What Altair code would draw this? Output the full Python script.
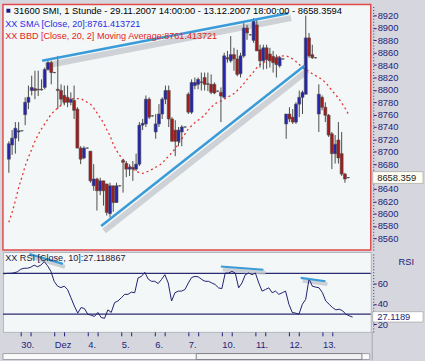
import json
import altair as alt
import pandas as pd

# ---------------- data ----------------
opens = [8688, 8711, 8722, 8732, 8734, 8760, 8780, 8799, 8802, 8800,
         8801, 8804, 8833, 8844, 8828, 8801, 8799, 8791, 8788, 8780,
         8783, 8769, 8706, 8690, 8706, 8701, 8645, 8656, 8637, 8653,
         8648, 8600, 8645, 8618, 8645, 8686, 8681, 8672, 8675, 8672,
         8680, 8743, 8745, 8785, 8758, 8732, 8745, 8761, 8785, 8799,
         8753, 8735, 8717, 8732, 8740, 8793, 8764, 8807, 8809, 8813,
         8820, 8810, 8809, 8809, 8798, 8796, 8788, 8852, 8847, 8857,
         8850, 8826, 8855, 8900, 8889, 8880, 8905, 8865, 8847, 8868,
         8858, 8854, 8852, 8839, 8850, 8745, 8761, 8756, 8748, 8777,
         8788, 8793, 8884, 8857, 8852, 8761, 8788, 8772, 8759, 8729,
         8697, 8719, 8697, 8664, 8658.3594]
highs = [8717, 8735, 8748, 8748, 8735, 8788, 8807, 8823, 8831, 8831,
         8817, 8836, 8847, 8847, 8829, 8855, 8809, 8807, 8807, 8796,
         8807, 8772, 8709, 8709, 8707, 8701, 8680, 8658, 8658, 8653,
         8648, 8650, 8645, 8650, 8646, 8688, 8685, 8680, 8685, 8697,
         8748, 8753, 8791, 8788, 8759, 8761, 8777, 8788, 8807, 8807,
         8756, 8751, 8740, 8743, 8741, 8796, 8817, 8820, 8820, 8828,
         8828, 8828, 8825, 8812, 8799, 8804, 8860, 8863, 8887, 8868,
         8865, 8860, 8908, 8905, 8890, 8916, 8913, 8873, 8873, 8873,
         8868, 8863, 8857, 8855, 8851, 8761, 8772, 8769, 8780, 8799,
         8799, 8920, 8892, 8873, 8853, 8809, 8791, 8780, 8761, 8732,
         8727, 8748, 8732, 8666, 8659]
lows = [8666, 8695, 8697, 8717, 8733, 8743, 8769, 8791, 8785, 8790,
        8799, 8801, 8831, 8809, 8827, 8769, 8775, 8775, 8772, 8775,
        8753, 8706, 8680, 8688, 8705, 8650, 8637, 8605, 8630, 8613,
        8597, 8594, 8603, 8618, 8644, 8634, 8659, 8661, 8653, 8669,
        8677, 8735, 8740, 8753, 8757, 8721, 8740, 8753, 8777, 8740,
        8717, 8693, 8709, 8709, 8739, 8761, 8761, 8801, 8801, 8799,
        8799, 8798, 8793, 8793, 8797, 8748, 8786, 8844, 8844, 8831,
        8822, 8820, 8852, 8881, 8888, 8876, 8863, 8836, 8833, 8834,
        8836, 8828, 8820, 8836, 8849, 8721, 8748, 8745, 8745, 8756,
        8761, 8793, 8852, 8850, 8851, 8732, 8767, 8748, 8724, 8672,
        8681, 8681, 8661, 8650, 8657]
closes = [8713, 8722, 8738, 8734, 8734, 8780, 8788, 8804, 8799, 8801,
          8800, 8833, 8844, 8828, 8828, 8799, 8785, 8780, 8780, 8785,
          8767, 8706, 8688, 8706, 8706, 8653, 8656, 8637, 8653, 8637,
          8602, 8645, 8618, 8645, 8645, 8683, 8672, 8675, 8672, 8680,
          8743, 8746, 8785, 8756, 8758, 8745, 8761, 8785, 8799, 8753,
          8717, 8717, 8735, 8740, 8740, 8764, 8812, 8812, 8817, 8812,
          8809, 8809, 8796, 8795, 8798, 8790, 8855, 8850, 8857, 8850,
          8825, 8855, 8900, 8892, 8889, 8911, 8863, 8847, 8868, 8849,
          8847, 8844, 8841, 8852, 8850, 8761, 8753, 8748, 8777, 8788,
          8796, 8884, 8855, 8852, 8852, 8793, 8772, 8759, 8727, 8697,
          8712, 8690, 8664, 8656, 8658.3594]
sma20 = [8586, 8602, 8621, 8642, 8659, 8677, 8691, 8704, 8717, 8728,
         8737, 8745, 8753, 8761, 8766, 8771, 8775, 8779, 8783, 8785,
         8786, 8786, 8786, 8783, 8780, 8777, 8771, 8763, 8755, 8747,
         8736, 8726, 8712, 8702, 8694, 8688, 8681, 8677, 8672, 8669,
         8666, 8665, 8667, 8669, 8672, 8675, 8678, 8681, 8688, 8693,
         8699, 8705, 8713, 8721, 8729, 8737, 8742, 8747, 8751, 8755,
         8759, 8766, 8772, 8777, 8780, 8782, 8785, 8788, 8791, 8794,
         8799, 8804, 8810, 8817, 8823, 8829, 8836, 8841, 8844, 8847,
         8849, 8850, 8852, 8854, 8855, 8855, 8853, 8850, 8846, 8841,
         8836, 8833, 8830, 8826, 8823, 8820, 8817, 8812, 8806, 8799,
         8793, 8787, 8779, 8771, 8761.413721]
rsi10 = [69.5, 70, 70, 70.5, 71.5, 74, 75, 75, 76, 78,
         76.5, 78, 81.5, 77.5, 72, 62, 57.5, 56, 57.5, 54,
         46, 38, 31, 36.5, 35.5, 30, 29, 27.8, 31.7, 26.8,
         25.9, 34.2, 31.7, 41.3, 42.9, 46, 49.4, 49.4, 51.6, 51,
         65.5, 67, 71, 64.5, 62.2, 62.2, 60, 64, 68.7, 60.6,
         42.9, 51, 52.6, 52.6, 54.2, 60.6, 66, 67, 66.5, 64,
         62.2, 62.2, 60.6, 59, 55.8, 55, 70.3, 70.3, 71.9, 70.3,
         55.8, 60.6, 68.7, 70.3, 68.7, 70.3, 60.6, 52.6, 54.2, 55.8,
         51, 52.6, 49.4, 51, 52.6, 39.7, 31.7, 31, 30, 39.7,
         44.5, 64.5, 57.4, 56.5, 55.8, 51, 42.9, 39.7, 36.5, 34.2,
         34.9, 33.3, 30, 28.4, 27.118867]

day_labels = ["30.", "Dez", "4.", "5.", "6.", "7.", "10.", "11.", "12.", "13."]
day_start_idx = [5, 15, 25, 35, 45, 55, 65, 75, 85, 95]
midday_idx = [8, 18, 28, 38, 48, 58, 68, 78, 88, 98]
# 8660 sits under the last-value box in the reference, so it is not labelled
price_ticks = [8560, 8580, 8600, 8620, 8640, 8680, 8700, 8720, 8740, 8760,
               8780, 8800, 8820, 8840, 8860, 8880, 8900, 8920]
rsi_ticks = [20, 40, 60]
rsi_levels = [30, 70]

# hand-drawn trend lines (candle index / price)
trend_i1 = [10.2, 28.3]
trend_p1 = [8847, 8580]
trend_i2 = [85.6, 90.6]
trend_p2 = [8924, 8839]
# hand-drawn lines in RSI panel (candle index / RSI)
rtrend_i1 = [7.6, 64.7, 88.5]
rtrend_r1 = [89.0, 76.7, 65.5]
rtrend_i2 = [17.6, 77.4, 95.9]
rtrend_r2 = [79.3, 73.5, 62.3]

title_main = ("31600  SMI, 1 Stunde - 29.11.2007 14:00:00 - 13.12.2007 18:00:00 - "
              f"{closes[-1]:.4f}")
title_sma = f"XX SMA [Close, 20]:{sma20[-1]:.6f}"
title_bbd = f"XX BBD [Close, 20, 2] Moving Average:{sma20[-1]:.6f}"
title_rsi = f"XX RSI [Close, 10]:{rsi10[-1]:.6f}"

# ---------------- styling ----------------
FONT = "Liberation Sans"
NAVY = "#1e1e78"
UP = "#2424b0"
DOWN = "#a11b1b"
WICK = "#4a4a4a"
TREND = "#3a9bd9"
SHADOW = "#c2c6cc"
PLOT_BG = "#f4f7f7"
PANEL_BG = "#d6d6de"

df = pd.DataFrame({
    "i": list(range(len(closes))),
    "open": opens, "high": highs, "low": lows, "close": closes,
    "sma": sma20, "rsi": rsi10,
})
df["dir"] = ["up" if c >= o else "down" for o, c in zip(opens, closes)]

xs = alt.Scale(domain=[-0.294, 109.41], nice=False, zero=False)
ys = alt.Scale(domain=[8541.2, 8938.0], nice=False, zero=False)
rs = alt.Scale(domain=[12.65, 90.9], nice=False, zero=False)

price_axis = alt.Axis(orient="right", values=price_ticks, format="d", title=None,
                      grid=False, offset=2.5, tickSize=3, tickColor=NAVY,
                      labelColor=NAVY, labelFont=FONT, labelFontSize=9.5,
                      labelPadding=1, domainColor="#333366", domainDash=[1, 2],
                      labelFlush=False, labelOverlap=False)
rsi_axis = alt.Axis(orient="right", values=rsi_ticks, format="d", title=None,
                    grid=False, offset=2.5, tickSize=3, tickColor=NAVY,
                    labelColor=NAVY, labelFont=FONT, labelFontSize=9.5,
                    labelPadding=1, domainColor="#333366", domainDash=[1, 2],
                    labelFlush=False, labelOverlap=False)

arr_idx = json.dumps(day_start_idx)
arr_lab = "[" + ",".join(f"'{d}'" for d in day_labels) + "]"
label_expr = (f"indexof({arr_idx}, datum.value) >= 0 ? "
              f"{arr_lab}[indexof({arr_idx}, datum.value)] : ''")
date_axis = alt.Axis(values=day_start_idx + midday_idx, labelExpr=label_expr,
                     orient="bottom", domain=False, grid=False, tickSize=4,
                     tickColor=NAVY, labelColor=NAVY, labelAlign="left",
                     labelBaseline="top", labelPadding=4, labelFontSize=9.5,
                     labelFont=FONT, title=None, labelFlush=False,
                     labelOverlap=False)


def text_at(txt, x, y, color, size, align="left"):
    return alt.Chart(pd.DataFrame({"t": [txt]})).mark_text(
        align=align, baseline="middle", font=FONT, fontSize=size, color=color
    ).encode(text="t:N", x=alt.value(x), y=alt.value(y))


base = alt.Chart(df)

# ---------- price panel ----------
wicks = base.mark_rule(color=WICK, strokeWidth=1).encode(
    x=alt.X("i:Q", scale=xs, axis=None),
    y=alt.Y("low:Q", scale=ys, axis=price_axis),
    y2="high:Q",
)
bodies = base.mark_bar(size=3, stroke="#4c4c4c", strokeWidth=0.6).encode(
    x=alt.X("i:Q", scale=xs, axis=None),
    y=alt.Y("open:Q", scale=ys, axis=price_axis),
    y2="close:Q",
    color=alt.Color("dir:N", scale=alt.Scale(domain=["up", "down"], range=[UP, DOWN]),
                    legend=None),
)
sma_line = base.mark_line(color="#e63232", strokeDash=[2, 3], strokeWidth=1.3).encode(
    x=alt.X("i:Q", scale=xs, axis=None),
    y=alt.Y("sma:Q", scale=ys, axis=price_axis),
)

tl = pd.DataFrame({"i1": trend_i1, "p1": trend_p1, "i2": trend_i2, "p2": trend_p2})
tl_shadow = alt.Chart(tl).mark_rule(
    color=SHADOW, strokeWidth=6, opacity=0.75, xOffset=3, x2Offset=3,
    yOffset=5, y2Offset=5
).encode(x=alt.X("i1:Q", scale=xs, axis=None), x2="i2:Q",
         y=alt.Y("p1:Q", scale=ys, axis=price_axis), y2="p2:Q")
tl_line = alt.Chart(tl).mark_rule(color=TREND, strokeWidth=2.6).encode(
    x=alt.X("i1:Q", scale=xs, axis=None), x2="i2:Q",
    y=alt.Y("p1:Q", scale=ys, axis=price_axis), y2="p2:Q")

last_df = pd.DataFrame({"v": [closes[-1]]})
last_box = alt.Chart(last_df).mark_rect(
    fill="#fdfdf2", stroke="#9a9a9a", strokeWidth=0.6, yOffset=-6, y2Offset=6
).encode(x=alt.value(375), x2=alt.value(426),
         y=alt.Y("v:Q", scale=ys, axis=price_axis), y2="v:Q")
last_txt = alt.Chart(last_df).mark_text(
    align="left", baseline="middle", font=FONT, fontSize=9.5, color="#222222"
).encode(x=alt.value(379.5), y=alt.Y("v:Q", scale=ys, axis=price_axis),
         text=alt.Text("v:Q", format=".3f"))

icon = alt.Chart(pd.DataFrame({"k": [1]})).mark_point(
    shape="square", filled=True, size=16, color="#1a1a8a", opacity=1
).encode(x=alt.value(5.5), y=alt.value(6.3))

main = alt.layer(
    tl_shadow, sma_line, wicks, bodies, tl_line, last_box, last_txt, icon,
    text_at(title_main, 11, 6.3, "#000000", 9.5),
    text_at(title_sma, 2.3, 20, "#2a2ae6", 9.2),
    text_at(title_bbd, 2.3, 32.3, "#e42222", 9.2),
).properties(
    width=373, height=249,
    view=alt.ViewBackground(fill=PLOT_BG, stroke="#e24a4a", strokeWidth=1.5),
)

# ---------- RSI panel ----------
rsi_line = base.mark_line(color="#20206e", strokeWidth=1).encode(
    x=alt.X("i:Q", scale=xs, axis=date_axis),
    y=alt.Y("rsi:Q", scale=rs, axis=rsi_axis),
)
levels = alt.Chart(pd.DataFrame({"lvl": rsi_levels})).mark_rule(
    color="#2a2a72", strokeWidth=1.2
).encode(y=alt.Y("lvl:Q", scale=rs, axis=rsi_axis))

rt = pd.DataFrame({"i1": rtrend_i1, "r1": rtrend_r1, "i2": rtrend_i2, "r2": rtrend_r2})
rt_shadow = alt.Chart(rt).mark_rule(
    color=SHADOW, strokeWidth=4, opacity=0.8, xOffset=2, x2Offset=2,
    yOffset=3, y2Offset=3
).encode(x=alt.X("i1:Q", scale=xs, axis=date_axis), x2="i2:Q",
         y=alt.Y("r1:Q", scale=rs, axis=rsi_axis), y2="r2:Q")
rt_line = alt.Chart(rt).mark_rule(color=TREND, strokeWidth=2.2).encode(
    x=alt.X("i1:Q", scale=xs, axis=date_axis), x2="i2:Q",
    y=alt.Y("r1:Q", scale=rs, axis=rsi_axis), y2="r2:Q")

rlast_df = pd.DataFrame({"v": [rsi10[-1]]})
rlast_box = alt.Chart(rlast_df).mark_rect(
    fill="#ffffff", stroke="#9a9a9a", strokeWidth=0.6, yOffset=-5.5, y2Offset=5
).encode(x=alt.value(375), x2=alt.value(426),
         y=alt.Y("v:Q", scale=rs, axis=rsi_axis), y2="v:Q")
rlast_txt = alt.Chart(rlast_df).mark_text(
    align="left", baseline="middle", font=FONT, fontSize=9.5, color=NAVY
).encode(x=alt.value(379.5), y=alt.Y("v:Q", scale=rs, axis=rsi_axis),
         text=alt.Text("v:Q", format=".4f"))

one = pd.DataFrame({"k": [1]})
scroll_bar = alt.Chart(one).mark_rect(fill="#fafafa", stroke="#a0a0a8", strokeWidth=1).encode(
    x=alt.value(0), x2=alt.value(372), y=alt.value(103), y2=alt.value(109))
scroll_thumb = alt.Chart(one).mark_rect(fill="#f2f2f2", stroke="#80808a", strokeWidth=1).encode(
    x=alt.value(196), x2=alt.value(364), y=alt.value(103), y2=alt.value(109))
sep = alt.Chart(one).mark_rule(color="#a8a8b0", strokeWidth=1).encode(
    x=alt.value(374.5), y=alt.value(81), y2=alt.value(110))

rsi_panel = alt.layer(
    levels, rt_shadow, rsi_line, rt_line, rlast_box, rlast_txt,
    scroll_bar, scroll_thumb, sep,
    text_at(title_rsi, 2.3, 6, "#1a1a40", 9.2),
    text_at("RSI", 417, 10, NAVY, 9.5, align="right"),
).properties(
    width=373, height=81,
    view=alt.ViewBackground(fill=PLOT_BG, stroke="#b4b4bc", strokeWidth=1),
)

chart = alt.vconcat(main, rsi_panel, spacing=2, bounds="flush").resolve_scale(
    x="independent", y="independent", color="independent"
).properties(
    background=PANEL_BG,
    padding={"left": 1, "top": 1, "right": 0, "bottom": 0},
)

chart.save("out.html", embed_options={"renderer": "svg", "actions": False})
